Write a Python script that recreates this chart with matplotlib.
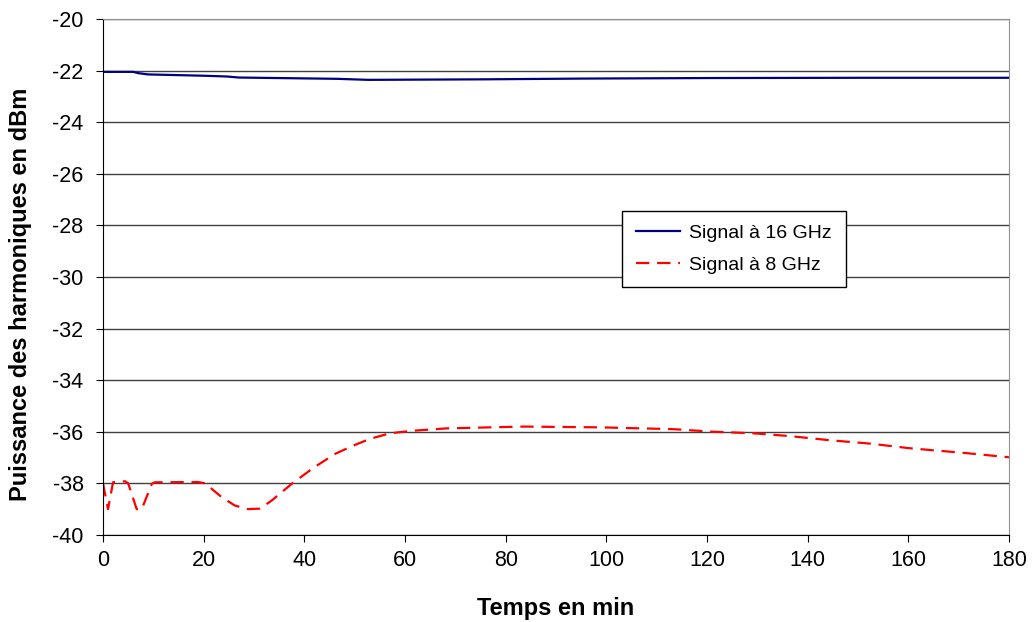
import numpy as np
import matplotlib.pyplot as plt

plt.rcParams['font.family'] = ['Liberation Sans', 'DejaVu Sans']
plt.rcParams['axes.unicode_minus'] = False

# Signal at 16 GHz (step-like trace)
t16 = [0, 6, 7, 9, 20, 24.6, 27, 46.5, 52.7, 75.5, 95.8, 120, 150, 180]
p16 = [-22.05, -22.05, -22.1, -22.15, -22.2, -22.23, -22.27, -22.32, -22.36, -22.34, -22.31, -22.29, -22.28, -22.28]

# Signal at 8 GHz
t8 = [0, 1, 2, 4.4, 5, 6.7, 7.7, 9.7, 10.3, 18.9, 20.3, 23.6, 26.2, 28.8, 31.2, 33.5, 37.5,
      41.8, 46.1, 49.7, 53, 57, 61.7, 68.3, 83.5, 98.7, 113.3, 121.3, 129.2, 136.5, 144.4,
      152.4, 160.3, 171.6, 180]
p8 = [-38.0, -39.0, -37.96, -37.92, -38.0, -39.0, -39.0, -38.02, -37.96, -37.95, -38.0, -38.54,
      -38.86, -39.0, -38.98, -38.67, -38.02, -37.4, -36.86, -36.54, -36.28, -36.06, -35.96,
      -35.87, -35.8, -35.83, -35.9, -36.0, -36.06, -36.17, -36.33, -36.46, -36.64, -36.83, -36.99]

xticks = np.arange(0, 181, 20)
yticks = np.arange(-40, -19, 2)

fig = plt.figure(figsize=(10.33, 6.22), dpi=100)
ax = fig.add_axes([0.0997, 0.14, 0.877, 0.8295])

ax.plot(t16, p16, color='#000080', lw=1.6, label='Signal à 16 GHz')
ax.plot(t8, p8, color='#FF0000', lw=1.6, ls=(0, (6, 3.5)), label='Signal à 8 GHz')

ax.set_xlim(0, 180)
ax.set_ylim(-40, -20)
ax.set_xticks(xticks)
ax.set_yticks(yticks)
ax.tick_params(direction='out', length=5, labelsize=15.5, color='black')
ax.tick_params(axis='x', pad=6)
ax.tick_params(axis='y', pad=9)
ax.yaxis.grid(True, color='#404040', lw=1)
ax.set_axisbelow(True)
for s in ['top', 'right']:
    ax.spines[s].set_color('#909090')
for s in ['left', 'bottom']:
    ax.spines[s].set_color('black')

ax.set_xlabel('Temps en min', fontsize=17, fontweight='bold')
ax.set_ylabel('Puissance des harmoniques en dBm', fontsize=17, fontweight='bold')
ax.xaxis.set_label_coords(0.5, -0.12)
ax.yaxis.set_label_coords(-0.078, 0.467)

leg = ax.legend(loc='center', bbox_to_anchor=(0.6965, 0.554), fontsize=14,
                frameon=True, fancybox=False, framealpha=1, edgecolor='black',
                borderpad=0.7, labelspacing=0.7, handlelength=2.25, handletextpad=0.5)
leg.get_frame().set_linewidth(1)

fig.savefig('out.png', dpi=100)
